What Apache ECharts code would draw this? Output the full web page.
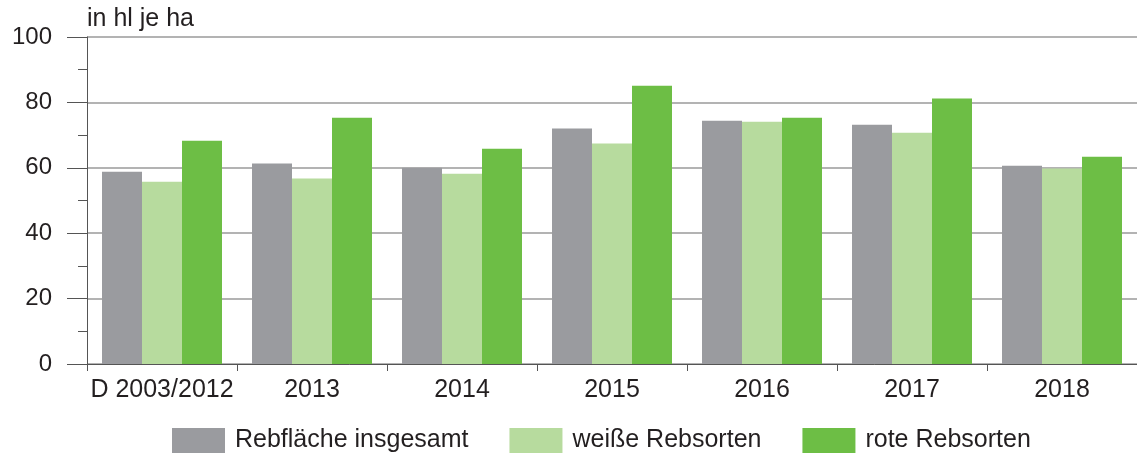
<!DOCTYPE html>
<html>
<head>
<meta charset="utf-8">
<script src="https://cdn.jsdelivr.net/npm/echarts@6/dist/echarts.min.js"></script>
<style>
html,body{margin:0;padding:0;background:#fff;}
#chart{width:1137px;height:456px;}
</style>
</head>
<body>
<div id="chart"></div>
<script>
const categories = ['D 2003/2012', '2013', '2014', '2015', '2016', '2017', '2018'];
const seriesNames = ['Rebfläche insgesamt', 'weiße Rebsorten', 'rote Rebsorten'];
const totalValues = [58.8, 61.3, 60.0, 72.0, 74.4, 73.2, 60.6];
const whiteValues = [55.7, 56.7, 58.2, 67.4, 74.1, 70.7, 59.8];
const redValues = [68.3, 75.3, 65.8, 85.1, 75.3, 81.2, 63.4];
const yTicks = [0, 20, 40, 60, 80, 100];
const unitLabel = 'in hl je ha';

const colors = ['#9a9b9f', '#b7db9e', '#6dbe45'];
const textColor = '#231f20';
const font = 'Liberation Sans, Arial, sans-serif';

const chart = echarts.init(document.getElementById('chart'), null, {renderer: 'canvas'});
const mkSeries = (name, data, color) => ({
  name, type: 'bar', data, barWidth: 40, barGap: '0%',
  itemStyle: {color}, emphasis: {disabled: true}, animation: false
});
chart.setOption({
  animation: false,
  color: colors,
  grid: {left: 87, right: 0, top: 37, bottom: 92, containLabel: false},
  graphic: [{
    type: 'text', left: 87, top: 7,
    style: {text: unitLabel, font: '25px ' + font, fill: textColor}
  }],
  legend: {
    left: 167, top: 423, itemWidth: 53, itemHeight: 25, itemGap: 41,
    icon: 'rect',
    textStyle: {fontSize: 25, fontFamily: font, color: textColor, padding: [0, 0, 0, 5]},
    data: seriesNames
  },
  xAxis: {
    type: 'category', data: categories,
    axisLine: {lineStyle: {color: '#555', width: 1}},
    axisTick: {show: true, length: 7, interval: 0, lineStyle: {color: '#555'}},
    axisLabel: {fontSize: 25, fontFamily: font, color: textColor, margin: 14, interval: 0}
  },
  yAxis: {
    type: 'value', min: yTicks[0], max: yTicks[yTicks.length - 1], interval: 20,
    axisLine: {show: true, lineStyle: {color: '#555', width: 1}},
    axisTick: {show: true, length: 20, lineStyle: {color: '#555'}},
    minorTick: {show: true, splitNumber: 2, length: 9, lineStyle: {color: '#555'}},
    splitLine: {show: true, lineStyle: {color: '#9a9a9a', width: 1.5}},
    axisLabel: {fontSize: 24, fontFamily: font, color: textColor, margin: 35}
  },
  series: [
    mkSeries(seriesNames[0], totalValues, colors[0]),
    mkSeries(seriesNames[1], whiteValues, colors[1]),
    mkSeries(seriesNames[2], redValues, colors[2])
  ]
});
</script>
</body>
</html>
